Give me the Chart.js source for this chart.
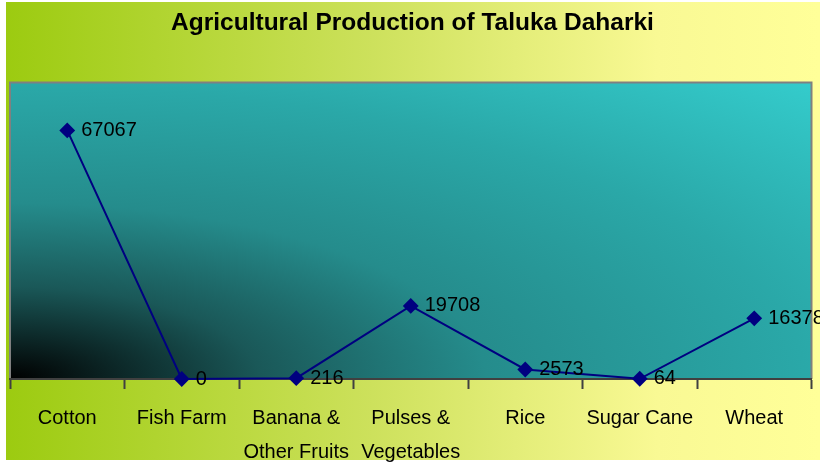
<!DOCTYPE html>
<html>
<head>
<meta charset="utf-8">
<script src="https://cdn.jsdelivr.net/npm/chart.js@4/dist/chart.umd.min.js"></script>
<style>
  html, body { margin: 0; padding: 0; background: #ffffff; }
  #wrap { width: 820px; height: 462px; position: relative; }
</style>
</head>
<body>
<div id="wrap"><canvas id="c" width="820" height="462"></canvas></div>
<script>
const titleText = 'Agricultural Production of Taluka Daharki';
const categories = [['Cotton'], ['Fish Farm'], ['Banana &', 'Other Fruits'], ['Pulses &', 'Vegetables'], ['Rice'], ['Sugar Cane'], ['Wheat']];
const production = [67067, 0, 216, 19708, 2573, 64, 16378];
const yMin = 0;
const yMax = 80000;

const FONT = "'Liberation Sans', Arial, sans-serif";

const bgPlugin = {
  id: 'bg',
  beforeDraw(chart) {
    const ctx = chart.ctx;
    const W = chart.width, H = chart.height;
    ctx.save();
    ctx.fillStyle = '#ffffff';
    ctx.fillRect(0, 0, W, H);
    const g = ctx.createLinearGradient(6, 0, W, 0);
    g.addColorStop(0, '#9ccb10');
    g.addColorStop(0.45, '#cde15c');
    g.addColorStop(0.8, '#f9f994');
    g.addColorStop(1, '#ffff99');
    ctx.fillStyle = g;
    ctx.fillRect(6, 2, W - 6, H - 4);
    const a = chart.chartArea;
    ctx.translate(a.left, a.top);
    ctx.scale(a.right - a.left, a.bottom - a.top);
    const pg = ctx.createRadialGradient(0, 1, 0, 0, 1, Math.SQRT2);
    pg.addColorStop(0, '#000000');
    pg.addColorStop(0.08, '#0a2020');
    pg.addColorStop(0.22, '#1a5858');
    pg.addColorStop(0.42, '#258c8c');
    pg.addColorStop(0.7, '#2aa8a8');
    pg.addColorStop(1, '#34cccc');
    ctx.fillStyle = pg;
    ctx.fillRect(0, 0, 1, 1);
    ctx.restore();
    ctx.save();
    ctx.strokeStyle = '#808080';
    ctx.lineWidth = 2;
    ctx.beginPath();
    ctx.moveTo(a.left, a.bottom);
    ctx.lineTo(a.left, a.top);
    ctx.lineTo(a.right, a.top);
    ctx.lineTo(a.right, a.bottom);
    ctx.stroke();
    ctx.restore();
  }
};

const labelPlugin = {
  id: 'pointLabels',
  afterDatasetsDraw(chart) {
    const ctx = chart.ctx;
    const meta = chart.getDatasetMeta(0);
    ctx.save();
    ctx.font = '20px ' + FONT;
    ctx.fillStyle = '#000000';
    ctx.textAlign = 'left';
    ctx.textBaseline = 'middle';
    meta.data.forEach((pt, i) => {
      ctx.fillText(String(chart.data.datasets[0].data[i]), pt.x + 14, pt.y);
    });
    ctx.restore();
  }
};

new Chart(document.getElementById('c'), {
  type: 'line',
  data: {
    labels: categories,
    datasets: [{
      label: 'Production',
      data: production,
      borderColor: '#000080',
      backgroundColor: '#000080',
      borderWidth: 2,
      pointStyle: 'rectRot',
      pointRadius: 6.5,
      pointHoverRadius: 6.5,
      tension: 0,
      clip: false
    }]
  },
  options: {
    responsive: false,
    animation: false,
    events: [],
    layout: { padding: { left: 10, right: 5, top: 0, bottom: -19 } },
    plugins: {
      legend: { display: false },
      tooltip: { enabled: false },
      title: {
        display: true,
        text: titleText,
        color: '#000000',
        font: { family: FONT, size: 24.5, weight: 'bold', lineHeight: 1.0 },
        padding: { top: 11, bottom: 47 }
      }
    },
    scales: {
      x: {
        offset: true,
        grid: {
          display: true,
          offset: true,
          drawOnChartArea: false,
          drawTicks: true,
          tickLength: 10,
          tickColor: '#404040',
          tickWidth: 2
        },
        border: { display: true, color: '#404040', width: 2 },
        ticks: {
          color: '#000000',
          font: { family: FONT, size: 20, lineHeight: 1.7 },
          padding: 12,
          maxRotation: 0,
          autoSkip: false
        }
      },
      y: {
        display: false,
        min: yMin,
        max: yMax
      }
    }
  },
  plugins: [bgPlugin, labelPlugin]
});
</script>
</body>
</html>
